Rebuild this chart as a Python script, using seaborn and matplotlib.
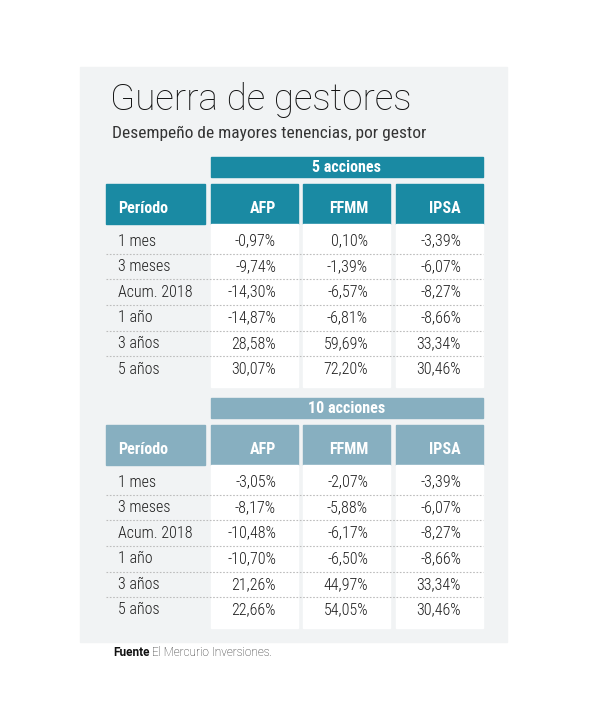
import seaborn as sns
import matplotlib.pyplot as plt
from matplotlib.patches import Rectangle

# data
periods = ['1 mes', '3 meses', 'Acum. 2018', '1 año', '3 años', '5 años']
managers = ['AFP', 'FFMM', 'IPSA']
blocks = ['5 acciones', '10 acciones']
afp_5 = ['-0,97%', '-9,74%', '-14,30%', '-14,87%', '28,58%', '30,07%']
ffmm_5 = ['0,10%', '-1,39%', '-6,57%', '-6,81%', '59,69%', '72,20%']
ipsa_5 = ['-3,39%', '-6,07%', '-8,27%', '-8,66%', '33,34%', '30,46%']
afp_10 = ['-3,05%', '-8,17%', '-10,48%', '-10,70%', '21,26%', '22,66%']
ffmm_10 = ['-2,07%', '-5,88%', '-6,17%', '-6,50%', '44,97%', '54,05%']
ipsa_10 = ['-3,39%', '-6,07%', '-8,27%', '-8,66%', '33,34%', '30,46%']

sns.set_theme(style='white')
NARROW = ['Roboto Condensed', 'DejaVu Sans']
plt.rcParams['font.family'] = ['Roboto', 'DejaVu Sans']

fig = plt.figure(figsize=(6, 7.25), dpi=100)
ax = fig.add_axes([0, 0, 1, 1])
ax.set_xlim(0, 600)
ax.set_ylim(725, 0)
ax.axis('off')

panel = '#f1f3f4'
ink = '#1e1e1e'
ax.add_patch(Rectangle((80, 67), 427, 575, color=panel, zorder=0))

ax.text(110, 100, 'Guerra de gestores', fontsize=26.5, fontweight='light',
        color='#111111', va='center', ha='left')
ax.text(112, 133, 'Desempeño de mayores tenencias, por gestor', fontsize=12.5,
        family=NARROW, color='#333333', va='center', ha='left')

col_left = [211, 303, 396]
col_w = 87
tables = [(blocks[0], '#1a8aa3', [afp_5, ffmm_5, ipsa_5], 157),
          (blocks[1], '#87afc0', [afp_10, ffmm_10, ipsa_10], 398)]

for title, colour, cols, top in tables:
    # group header bar
    ax.add_patch(Rectangle((211, top), 272, 20, color=colour, zorder=1))
    ax.text(347, top + 10.5, title, fontsize=11.5, family=NARROW, color='white',
            fontweight='semibold', ha='center', va='center')
    # column headers
    htop = top + 27
    ax.add_patch(Rectangle((106, htop), 99, 40, color=colour, zorder=1))
    ax.text(118, htop + 24, 'Período', fontsize=11.5, family=NARROW, color='white',
            fontweight='semibold', ha='left', va='center')
    for x0, name in zip(col_left, managers):
        ax.add_patch(Rectangle((x0, htop), col_w, 40, color=colour, zorder=1))
        ax.text(x0 + 65, htop + 24, name, fontsize=11.5, family=NARROW, color='white',
                fontweight='semibold', ha='right', va='center')
        # white data column
        ax.add_patch(Rectangle((x0, htop + 40), col_w, 163, color='white', zorder=1))
    # rows
    row0 = htop + 57
    step = 25.6
    for i, p in enumerate(periods):
        y = row0 + i * step
        ax.text(118, y, p, fontsize=11.5, family=NARROW, fontweight='light', color=ink,
                ha='left', va='center')
        for x0, vals in zip(col_left, cols):
            ax.text(x0 + 65, y, vals[i], fontsize=11.5, family=NARROW, fontweight='light',
                    color=ink, ha='right', va='center')
        if i < len(periods) - 1:
            ax.plot([106, 483], [y + step / 2, y + step / 2], color='#bdbdbd', lw=0.8,
                    ls=(0, (1.5, 1.5)), zorder=2)

ax.text(113, 652, 'Fuente', fontsize=8.5, fontweight='bold', color='#111111',
        ha='left', va='center')
ax.text(152, 652, 'El Mercurio Inversiones.', fontsize=8.5, color='#222222',
        fontweight='light', ha='left', va='center')

fig.savefig('out.png', dpi=100)
